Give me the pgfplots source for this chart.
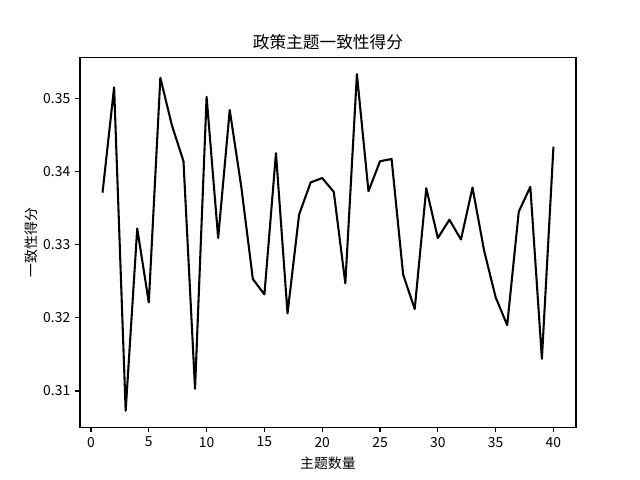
\documentclass[border=0pt]{standalone}
\usepackage{fontspec}
\setmainfont{Noto Sans CJK SC}
\usepackage{pgfplots}
\pgfplotsset{compat=1.18}
\begin{document}
\begin{tikzpicture}
\begin{axis}[
  scale only axis,
  width=357.12pt, height=266.11pt,
  xmin=-0.95, xmax=41.95,
  ymin=0.30505, ymax=0.35556,
  xtick={0,5,...,40},
  ytick={0.31,0.32,0.33,0.34,0.35},
  yticklabel style={/pgf/number format/.cd,fixed,fixed zerofill,precision=2},
  /pgf/number format/assume math mode=true,
  tick align=outside,
  major tick length=3.5pt,
  xtick pos=left, ytick pos=left,
  tick style={black, line width=0.8pt},
  axis line style={line width=0.8pt},
  ticklabel style={font=\fontsize{10}{12}\selectfont},
  title={政策主题一致性得分},
  title style={font=\fontsize{12}{14}\selectfont, yshift=-4pt},
  xlabel={主题数量},
  ylabel={一致性得分},
  ylabel style={yshift=-3pt},
  label style={font=\fontsize{10}{12}\selectfont},
]
\addplot[black, line width=1.5pt, line join=round] coordinates {
(1,0.3371) (2,0.3515) (3,0.3073) (4,0.3322) (5,0.3221)
(6,0.3528) (7,0.3463) (8,0.3414) (9,0.3103) (10,0.3502)
(11,0.3309) (12,0.3484) (13,0.3379) (14,0.3253) (15,0.3232)
(16,0.3425) (17,0.3206) (18,0.3341) (19,0.3385) (20,0.3391)
(21,0.3372) (22,0.3247) (23,0.3533) (24,0.3373) (25,0.3414)
(26,0.3417) (27,0.3259) (28,0.3212) (29,0.3377) (30,0.3309)
(31,0.3334) (32,0.3307) (33,0.3378) (34,0.3292) (35,0.3228)
(36,0.3190) (37,0.3345) (38,0.3379) (39,0.3144) (40,0.3434)
};
\end{axis}
\path[use as bounding box] ([xshift=-57.6pt,yshift=-38.016pt]current axis.south west) rectangle ([xshift=46.08pt,yshift=41.472pt]current axis.north east);
\end{tikzpicture}
\end{document}
